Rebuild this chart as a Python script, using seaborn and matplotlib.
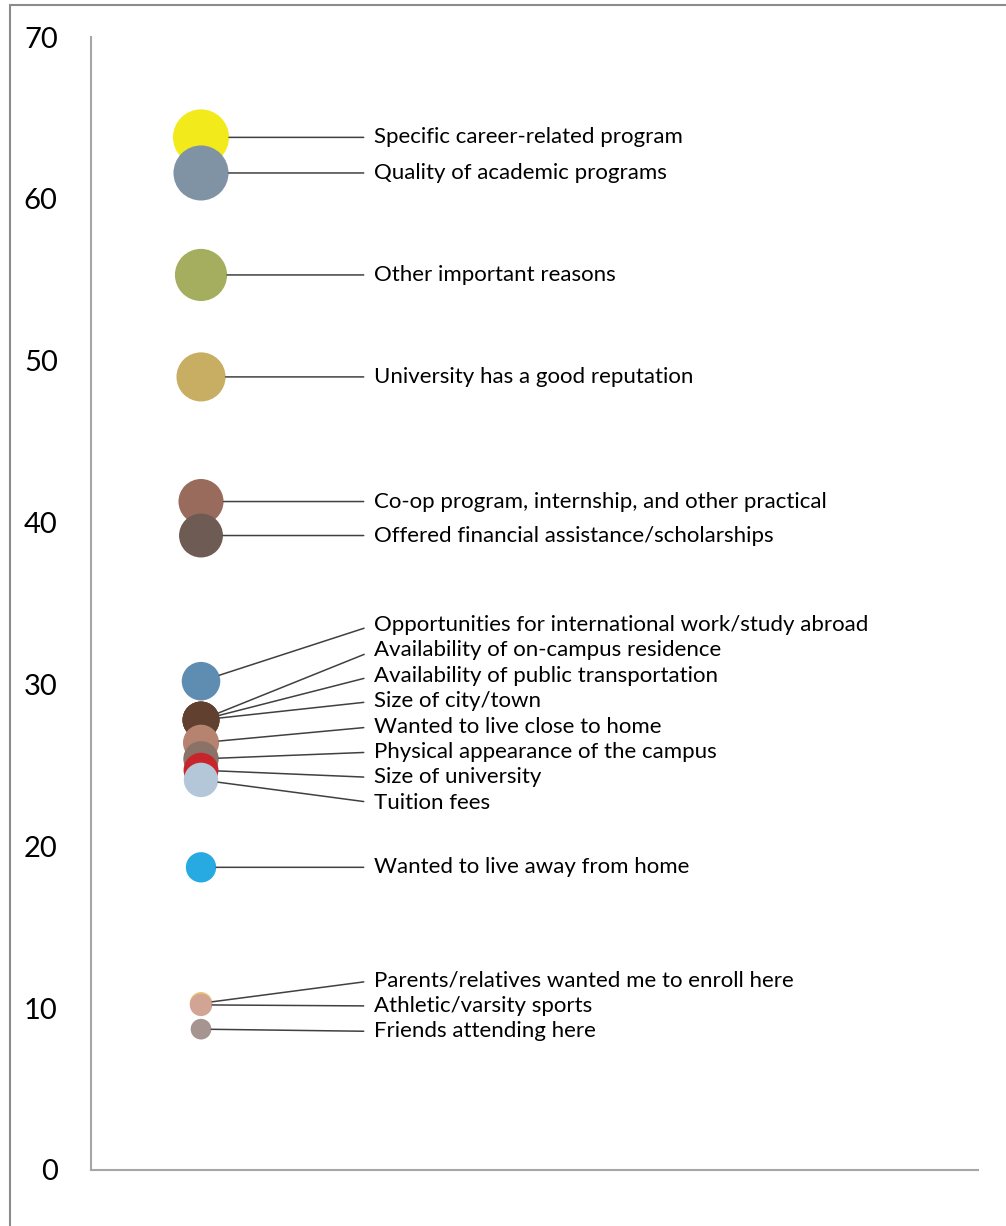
"""
Bubble chart: reasons for choosing a university (% of students).
Single column of bubbles, area proportional to the share, with leader-line labels.
"""

import numpy as np
import pandas as pd
import matplotlib
matplotlib.use('Agg')
import matplotlib.pyplot as plt
from matplotlib.lines import Line2D
import seaborn as sns

reasons = [
    'Specific career-related program',
    'Quality of academic programs',
    'Other important reasons',
    'University has a good reputation',
    'Co-op program, internship, and other practical',
    'Offered financial assistance/scholarships',
    'Opportunities for international work/study abroad',
    'Availability of on-campus residence',
    'Availability of public transportation',
    'Size of city/town',
    'Wanted to live close to home',
    'Physical appearance of the campus',
    'Size of university',
    'Tuition fees',
    'Wanted to live away from home',
    'Parents/relatives wanted me to enroll here',
    'Athletic/varsity sports',
    'Friends attending here',
]
percent = [63.8, 61.6, 55.3, 49.0, 41.3, 39.2, 30.2, 27.8, 27.8, 27.8,
           26.4, 25.4, 24.7, 24.1, 18.7, 10.3, 10.2, 8.7]
colors = ['#F2EA1B', '#7F93A5', '#A5AE5E', '#C8AE62', '#986B5C', '#6E5B54',
          '#5F8DB1', '#6A4636', '#66432F', '#62402F', '#B5836F', '#8A7268',
          '#C8242B', '#B4C7D9', '#27AAE1', '#E8C57A', '#D1A493', '#A69490']
y_ticks = [0, 10, 20, 30, 40, 50, 60, 70]


def spread_labels(vals, gap, lift=0.2):
    """Push label positions apart so neighbours are at least `gap` apart.
    Crowded groups are nudged up a little (lift per extra member)."""
    vals = np.asarray(vals, dtype=float)
    order = list(np.argsort(-vals, kind='stable'))
    groups = [[i] for i in order]

    def place(g):
        n = len(g)
        c = np.mean(vals[g]) + lift * (n - 1)
        return [c + gap * ((n - 1) / 2 - k) for k in range(n)]

    changed = True
    while changed:
        changed = False
        for j in range(len(groups) - 1):
            a, b = place(groups[j]), place(groups[j + 1])
            if a[-1] - b[0] < gap - 1e-9:
                groups[j] = groups[j] + groups[j + 1]
                del groups[j + 1]
                changed = True
                break
    pos = np.empty(len(vals))
    for g in groups:
        for i, p in zip(g, place(g)):
            pos[i] = p
    return pos


def main():
    sns.set_style('white')
    plt.rcParams['font.family'] = ['Lato', 'DejaVu Sans']

    df = pd.DataFrame({'reason': reasons, 'percent': percent})
    df['x'] = 0.124

    fig = plt.figure(figsize=(10.06, 12.26), dpi=100)
    ax = fig.add_axes([0.0905, 0.0457, 0.8815, 0.9241])

    k = 25.5  # points^2 per percent -> bubble area proportional to value
    vmin, vmax = min(percent), max(percent)
    sns.scatterplot(data=df, x='x', y='percent', hue='reason',
                    palette=dict(zip(reasons, colors)),
                    size='percent', sizes=(k * vmin, k * vmax), size_norm=(vmin, vmax),
                    linewidth=0, legend=False, ax=ax, zorder=3)

    ax.set_xlim(0, 1)
    ax.set_ylim(0, 70)
    ax.set_yticks(y_ticks)
    ax.set_xticks([])
    ax.set_xlabel('')
    ax.set_ylabel('')
    ax.tick_params(axis='y', length=0, pad=24, labelsize=21, labelcolor='black')
    for side in ['top', 'right']:
        ax.spines[side].set_visible(False)
    for side in ['left', 'bottom']:
        ax.spines[side].set_color('#A6A6A6')
        ax.spines[side].set_linewidth(1.5)

    # labels with leader lines
    label_y = spread_labels(percent, 1.57)
    for r, v, ly in zip(reasons, percent, label_y):
        radius = np.sqrt(k * v) / 2
        ax.annotate(r, xy=(0.124, v), xytext=(0.319, ly),
                    ha='left', va='center', fontsize=16, color='black',
                    arrowprops=dict(arrowstyle='-', color='#404040', lw=1.1,
                                    shrinkA=5, shrinkB=radius,
                                    relpos=(0, 0.5)))

    # outer frame (top and left edges)
    fig.add_artist(Line2D([10 / 1006, 1], [1 - 5 / 1226, 1 - 5 / 1226],
                          transform=fig.transFigure, color='#8C8C8C', lw=1.5))
    fig.add_artist(Line2D([10 / 1006, 10 / 1006], [0, 1 - 5 / 1226],
                          transform=fig.transFigure, color='#8C8C8C', lw=1.5))

    fig.savefig('out.png', dpi=100)
    plt.close(fig)


if __name__ == '__main__':
    main()
